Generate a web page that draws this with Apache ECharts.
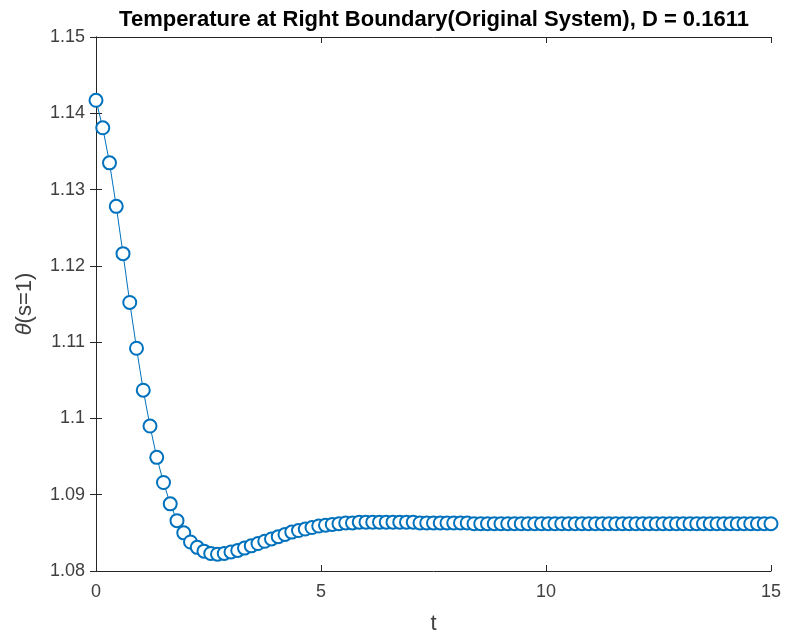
<!DOCTYPE html>
<html>
<head>
<meta charset="utf-8">
<script src="https://cdn.jsdelivr.net/npm/echarts@6/dist/echarts.min.js"></script>
<style>html,body{margin:0;padding:0;background:#fff}#c{width:788px;height:641px}</style>
</head>
<body>
<div id="c"></div>
<script>
const titleText = 'Temperature at Right Boundary(Original System), D = 0.1611';
const tValues = [0,0.15,0.3,0.45,0.6,0.75,0.9,1.05,1.2,1.35,1.5,1.65,1.8,1.95,2.1,2.25,2.4,2.55,2.7,2.85,3,3.15,3.3,3.45,3.6,3.75,3.9,4.05,4.2,4.35,4.5,4.65,4.8,4.95,5.1,5.25,5.4,5.55,5.7,5.85,6,6.15,6.3,6.45,6.6,6.75,6.9,7.05,7.2,7.35,7.5,7.65,7.8,7.95,8.1,8.25,8.4,8.55,8.7,8.85,9,9.15,9.3,9.45,9.6,9.75,9.9,10.05,10.2,10.35,10.5,10.65,10.8,10.95,11.1,11.25,11.4,11.55,11.7,11.85,12,12.15,12.3,12.45,12.6,12.75,12.9,13.05,13.2,13.35,13.5,13.65,13.8,13.95,14.1,14.25,14.4,14.55,14.7,14.85,15];
const thetaValues = [
  1.1417,1.1381,1.1335,1.1278,1.1216,1.1152,1.1092,1.1037,1.0990,1.0949,
  1.0916,1.0888,1.0866,1.0850,1.0838,1.0831,1.0826,1.0823,1.0822,1.0823,
  1.0825,1.0827,1.0830,1.0833,1.0836,1.0839,1.0842,1.0845,1.0848,1.0851,
  1.0853,1.0855,1.0857,1.0859,1.0860,1.0861,1.0862,1.0863,1.0863,1.0864,
  1.0864,1.0864,1.0864,1.0864,1.0864,1.0864,1.0864,1.0864,1.0863,1.0863,
  1.0863,1.0863,1.0863,1.0863,1.0863,1.0863,1.0862,1.0862,1.0862,1.0862,
  1.0862,1.0862,1.0862,1.0862,1.0862,1.0862,1.0862,1.0862,1.0862,1.0862,
  1.0862,1.0862,1.0862,1.0862,1.0862,1.0862,1.0862,1.0862,1.0862,1.0862,
  1.0862,1.0862,1.0862,1.0862,1.0862,1.0862,1.0862,1.0862,1.0862,1.0862,
  1.0862,1.0862,1.0862,1.0862,1.0862,1.0862,1.0862,1.0862,1.0862,1.0862,
  1.0862
];
const xTicks = [0, 5, 10, 15];
const yTicks = [1.08, 1.09, 1.10, 1.11, 1.12, 1.13, 1.14, 1.15];

const axisColor = '#262626';
const labelColor = '#404040';
const font = 'Liberation Sans, Arial, Helvetica, sans-serif';
const lineColor = '#0072BD';

const chart = echarts.init(document.getElementById('c'), null, {renderer: 'canvas'});
const baseX = {
  type: 'value', min: xTicks[0], max: xTicks[xTicks.length - 1], interval: 5,
  axisLine: {show: true, lineStyle: {color: axisColor, width: 1}},
  axisTick: {show: true, inside: true, length: 6, lineStyle: {color: axisColor}},
  splitLine: {show: false}
};
const baseY = {
  type: 'value', min: yTicks[0], max: yTicks[yTicks.length - 1], interval: 0.01,
  axisLine: {show: true, lineStyle: {color: axisColor, width: 1}},
  axisTick: {show: true, inside: true, length: 6, lineStyle: {color: axisColor}},
  splitLine: {show: false}
};
chart.setOption({
  animation: false,
  backgroundColor: '#ffffff',
  title: {
    text: titleText, left: 429, textAlign: 'center', top: 4,
    textStyle: {fontFamily: font, fontSize: 22, fontWeight: 'bold', color: '#000'}
  },
  grid: {left: 96, right: 17, top: 37, bottom: 70, containLabel: false},
  xAxis: [
    Object.assign({}, baseX, {
      position: 'bottom', name: 't', nameLocation: 'middle', nameGap: 42,
      nameTextStyle: {fontFamily: font, fontSize: 22, color: labelColor},
      axisLabel: {show: true, margin: 12, fontFamily: font, fontSize: 18, color: labelColor,
        formatter: v => String(+v.toFixed(2))}
    }),
    Object.assign({}, baseX, {position: 'top', axisLabel: {show: false}})
  ],
  yAxis: [
    Object.assign({}, baseY, {
      position: 'left',
      name: '{i|θ}(s=1)', nameLocation: 'middle', nameGap: 60, nameRotate: 90,
      nameTextStyle: {fontFamily: font, fontSize: 22, color: labelColor,
        rich: {i: {fontStyle: 'italic', fontFamily: font, fontSize: 22, color: labelColor}}},
      axisLabel: {show: true, margin: 11, fontFamily: font, fontSize: 18, color: labelColor,
        formatter: v => String(+v.toFixed(2))}
    }),
    Object.assign({}, baseY, {position: 'right', axisLabel: {show: false}})
  ],
  series: [{
    type: 'line',
    xAxisIndex: 0, yAxisIndex: 0,
    data: tValues.map((t, i) => [t, thetaValues[i]]),
    symbol: 'emptyCircle', symbolSize: 13, showSymbol: true, showAllSymbol: true,
    lineStyle: {color: lineColor, width: 1},
    itemStyle: {color: lineColor, borderColor: lineColor, borderWidth: 1},
    emphasis: {disabled: true}
  }]
});
</script>
</body>
</html>
